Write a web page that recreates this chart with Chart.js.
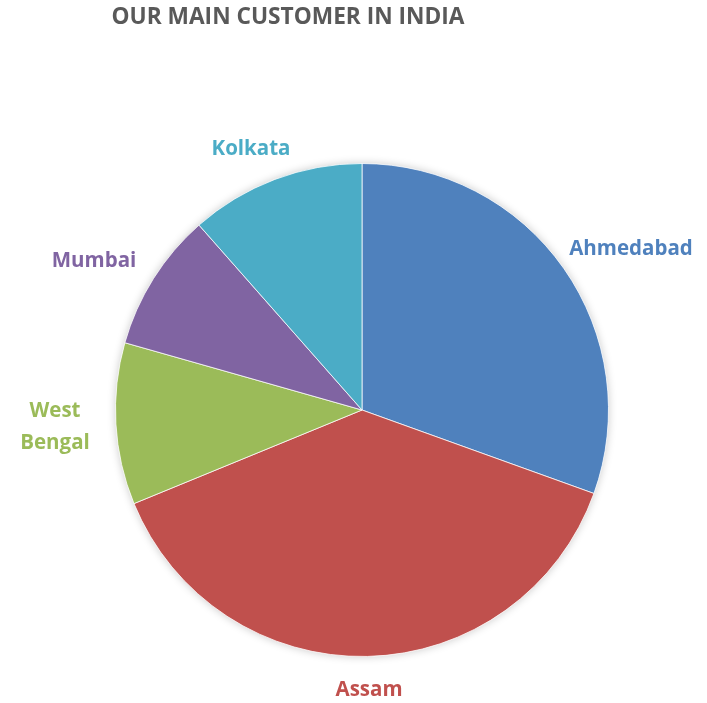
<!DOCTYPE html>
<html>
<head>
<meta charset="utf-8">
<script src="https://cdn.jsdelivr.net/npm/chart.js@4/dist/chart.umd.min.js"></script>
<style>
html,body{margin:0;padding:0;background:#fff;}
#wrap{width:707px;height:703px;position:relative;}
</style>
</head>
<body>
<div id="wrap"><canvas id="c"></canvas></div>
<script>
// ---- data ----
const categories = ["Ahmedabad", "Assam", "West Bengal", "Mumbai", "Kolkata"];
const values = [30.5, 38.3, 10.6, 9.1, 11.5];
const titleText = "OUR MAIN CUSTOMER IN INDIA";

// ---- styles / layout ----
const colors = ["#4F81BD", "#C0504D", "#9BBB59", "#8064A2", "#4BACC6"];
const labelLines = [["Ahmedabad"], ["Assam"], ["West", "Bengal"], ["Mumbai"], ["Kolkata"]];
const labelPos = [[631, 249], [369, 690], [55, 427], [94, 261], [251, 149]];
const labelFont = "bold 20.5px 'Open Sans'";
const titleFont = "bold 22.7px 'Open Sans'";

const shadowPlugin = {
  id: 'pieShadow',
  beforeDatasetsDraw(chart) {
    const arc = chart.getDatasetMeta(0).data[0];
    if (!arc) return;
    const ctx = chart.ctx;
    ctx.save();
    ctx.shadowColor = 'rgba(0,0,0,0.22)';
    ctx.shadowBlur = 9;
    ctx.fillStyle = '#ffffff';
    ctx.beginPath();
    ctx.arc(arc.x, arc.y, arc.outerRadius, 0, Math.PI * 2);
    ctx.fill();
    ctx.restore();
  }
};

const labelPlugin = {
  id: 'pieLabels',
  afterDatasetsDraw(chart) {
    const ctx = chart.ctx;
    ctx.save();
    ctx.textAlign = 'center';
    ctx.textBaseline = 'middle';
    ctx.font = labelFont;
    labelLines.forEach((lines, i) => {
      ctx.fillStyle = colors[i];
      const [x, y] = labelPos[i];
      const lh = 32;
      const y0 = y - (lines.length - 1) * lh / 2;
      lines.forEach((t, k) => ctx.fillText(t, x, y0 + k * lh));
    });
    ctx.font = titleFont;
    ctx.fillStyle = '#595959';
    ctx.fillText(titleText, 288, 18);
    ctx.restore();
  }
};

new Chart(document.getElementById('c'), {
  type: 'pie',
  data: {
    labels: categories,
    datasets: [{
      data: values,
      backgroundColor: colors,
      borderColor: 'rgba(255,255,255,0.75)',
      borderWidth: 1
    }]
  },
  options: {
    responsive: true,
    maintainAspectRatio: false,
    animation: false,
    layout: { padding: { left: 115, right: 98, top: 163, bottom: 46 } },
    plugins: {
      legend: { display: false },
      tooltip: { enabled: false },
      title: { display: false }
    }
  },
  plugins: [shadowPlugin, labelPlugin]
});
</script>
</body>
</html>
